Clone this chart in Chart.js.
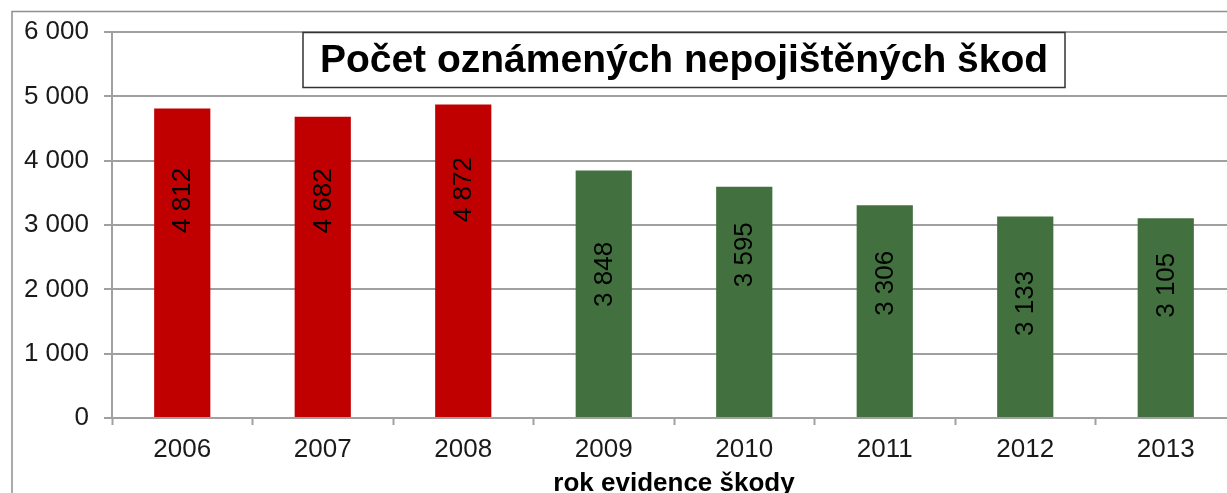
<!DOCTYPE html>
<html>
<head>
<meta charset="utf-8">
<script src="https://cdn.jsdelivr.net/npm/chart.js@4"></script>
<style>
    html, body { margin: 0; padding: 0; background: #fff; overflow: hidden; }
    #wrap { width: 1240px; height: 493px; }
</style>
</head>
<body>
<div id="wrap"><canvas id="chart" width="1240" height="493"></canvas></div>
<script>
// Data
const years = ['2006', '2007', '2008', '2009', '2010', '2011', '2012', '2013']
const claims = [4812, 4682, 4872, 3848, 3595, 3306, 3133, 3105]
const yTicks = [0, 1000, 2000, 3000, 4000, 5000, 6000]

const chartTitle = 'Počet oznámených nepojištěných škod'
const axisTitle = 'rok evidence škody'

// Styling
const RED = '#C00000'
const GREEN = '#42713F'
const barColors = [RED, RED, RED, GREEN, GREEN, GREEN, GREEN, GREEN]
// how far below the bar top each value label is centred (px)
const labelDrop = [92, 84, 85, 104, 68, 78, 87, 67]
const GRID = '#a0a0a0'
const FONT = '"Liberation Sans", Arial, sans-serif'

const fmt = v => String(v).replace(/\B(?=(\d{3})+(?!\d))/g, ' ')

// outer frame of the chart object (cut off on the right and bottom)
const framePlugin = {
    id: 'frame',
    beforeDraw(chart) {
        const ctx = chart.ctx
        ctx.save()
        ctx.fillStyle = '#fff'
        ctx.fillRect(0, 0, chart.width, chart.height)
        ctx.strokeStyle = '#8f8f8f'
        ctx.lineWidth = 1.5
        ctx.strokeRect(12, 11.5, 3000, 3000)
        ctx.restore()
    }
}

// rotated value labels inside the bars
const valueLabels = {
    id: 'valueLabels',
    afterDatasetsDraw(chart) {
        const ctx = chart.ctx
        const meta = chart.getDatasetMeta(0)
        ctx.save()
        ctx.font = '26px ' + FONT
        ctx.fillStyle = '#000'
        ctx.textAlign = 'center'
        ctx.textBaseline = 'middle'
        meta.data.forEach((bar, i) => {
            ctx.save()
            ctx.translate(bar.x, bar.y + labelDrop[i])
            ctx.rotate(-Math.PI / 2)
            ctx.fillText(fmt(claims[i]), 0, 1)
            ctx.restore()
        })
        ctx.restore()
    }
}

// boxed chart title sitting inside the plot area
const boxedTitle = {
    id: 'boxedTitle',
    afterDraw(chart) {
        const ctx = chart.ctx
        const cx = 684, cy = 60
        ctx.save()
        ctx.font = 'bold 39px ' + FONT
        const w = ctx.measureText(chartTitle).width
        const bw = Math.max(w + 16, 762), bh = 55
        ctx.fillStyle = '#fff'
        ctx.fillRect(cx - bw / 2, cy - bh / 2, bw, bh)
        ctx.strokeStyle = '#333'
        ctx.lineWidth = 1.5
        ctx.strokeRect(cx - bw / 2, cy - bh / 2, bw, bh)
        ctx.fillStyle = '#000'
        ctx.textAlign = 'center'
        ctx.textBaseline = 'middle'
        ctx.fillText(chartTitle, cx, cy + 1, bw - 14)
        ctx.restore()
    }
}

new Chart(document.getElementById('chart'), {
    type: 'bar',
    data: {
        labels: years,
        datasets: [{
            data: claims,
            backgroundColor: barColors,
            borderWidth: 0,
            categoryPercentage: 1,
            barPercentage: 0.4
        }]
    },
    options: {
        responsive: false,
        animation: false,
        events: [],
        layout: { padding: { top: 32, right: 4, left: 0, bottom: -4 } },
        plugins: {
            legend: { display: false },
            tooltip: { enabled: false }
        },
        scales: {
            x: {
                afterFit: scale => { scale.height = 79 },
                grid: {
                    offset: true,
                    drawOnChartArea: false,
                    tickLength: 7,
                    tickWidth: 2,
                    tickColor: GRID
                },
                border: { color: GRID, width: 2 },
                ticks: {
                    color: '#1a1a1a',
                    padding: 9,
                    font: { family: FONT, size: 26 }
                },
                title: {
                    display: true,
                    text: axisTitle,
                    color: '#000',
                    padding: { top: 0, bottom: 0 },
                    font: { family: FONT, size: 26, weight: 'bold', lineHeight: 1 }
                }
            },
            y: {
                min: yTicks[0],
                max: yTicks[yTicks.length - 1],
                afterFit: scale => { scale.width = 112 },
                afterBuildTicks: scale => { scale.ticks = yTicks.map(v => ({ value: v })) },
                grid: {
                    color: GRID,
                    lineWidth: 2,
                    tickLength: 8
                },
                border: { color: GRID, width: 2 },
                ticks: {
                    color: '#1a1a1a',
                    padding: 15,
                    font: { family: FONT, size: 26 },
                    callback: v => fmt(v)
                }
            }
        }
    },
    plugins: [framePlugin, valueLabels, boxedTitle]
})
</script>
</body>
</html>
